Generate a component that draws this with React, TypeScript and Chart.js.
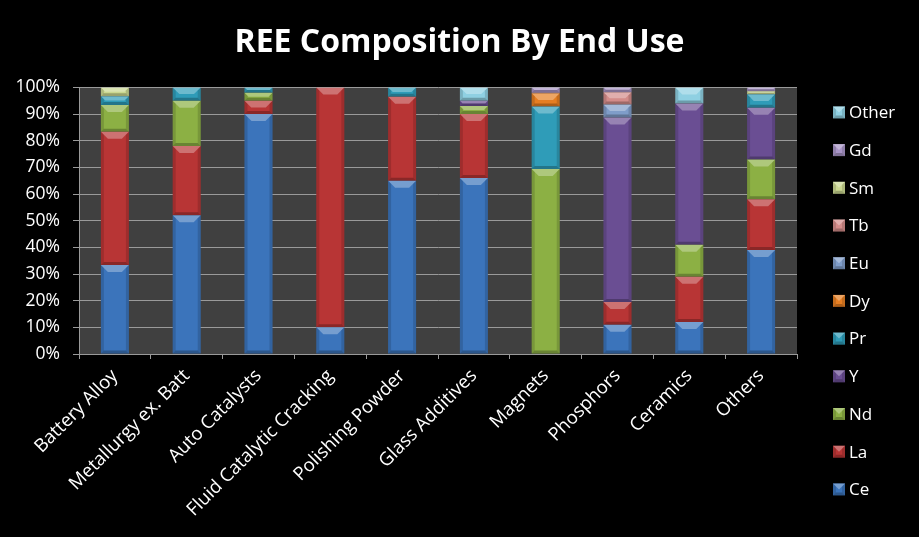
import React, { useEffect, useRef } from "react";
import { Chart, registerables } from "chart.js";

Chart.register(...registerables);

const categories = [
  "Battery Alloy",
  "Metallurgy ex. Batt",
  "Auto Catalysts",
  "Fluid Catalytic Cracking",
  "Polishing Powder",
  "Glass Additives",
  "Magnets",
  "Phosphors",
  "Ceramics",
  "Others",
];

const ce = [33.4, 52, 90, 10, 65, 66, 0, 11, 12, 39];
const la = [50, 26, 5, 90, 31.5, 24, 0, 8.5, 17, 19];
const nd = [10, 17, 3, 0, 0, 3, 69.4, 0, 12, 15];
const y = [0, 0, 0, 0, 0, 2, 0, 69.2, 53, 19.4];
const pr = [3.3, 5, 2, 0, 3.5, 0, 23.4, 0, 0, 5];
const dy = [0, 0, 0, 0, 0, 0, 5, 0, 0, 0];
const eu = [0, 0, 0, 0, 0, 0, 0, 4.9, 0, 0];
const tb = [0, 0, 0, 0, 0, 0, 0.2, 4.6, 0, 0];
const sm = [3.3, 0, 0, 0, 0, 0, 0, 0, 0, 1.2];
const gd = [0, 0, 0, 0, 0, 0, 2, 1.8, 0, 1.4];
const other = [0, 0, 0, 0, 0, 5, 0, 0, 6, 0];

const seriesNames = ["Ce", "La", "Nd", "Y", "Pr", "Dy", "Eu", "Tb", "Sm", "Gd", "Other"];
const seriesValues = [ce, la, nd, y, pr, dy, eu, tb, sm, gd, other];
const seriesColors = [
  "#3b74bb",
  "#b83535",
  "#8cb044",
  "#6a4e93",
  "#2f9cb8",
  "#e67e22",
  "#7f9dc9",
  "#d38c8a",
  "#cbd891",
  "#a894c6",
  "#8fd0e2",
];

const yTicks = [0, 10, 20, 30, 40, 50, 60, 70, 80, 90, 100];

const FONT = "'Open Sans', 'DejaVu Sans', sans-serif";

const backgroundPlugin = {
  id: "bgPlot",
  beforeDraw(chart: any) {
    const { ctx, chartArea } = chart;
    ctx.save();
    ctx.fillStyle = "#000000";
    ctx.fillRect(0, 0, chart.width, chart.height);
    ctx.fillStyle = "#404040";
    ctx.fillRect(chartArea.left, chartArea.top, chartArea.right - chartArea.left, chartArea.bottom - chartArea.top);
    ctx.restore();
  },
};

function bevel(ctx: any, left: number, top: number, right: number, bottom: number) {
  const w = right - left;
  const h = bottom - top;
  if (h < 0.5 || w < 1) return;
  const b = Math.min(7, h / 2, w / 2);
  ctx.save();
  ctx.fillStyle = "rgba(255,255,255,0.3)";
  ctx.beginPath();
  ctx.moveTo(left, top);
  ctx.lineTo(right, top);
  ctx.lineTo(right - b, top + b);
  ctx.lineTo(left + b, top + b);
  ctx.closePath();
  ctx.fill();
  const s = Math.min(3, b);
  ctx.fillStyle = "rgba(0,0,0,0.14)";
  ctx.beginPath();
  ctx.moveTo(left, top);
  ctx.lineTo(left + s, top + s);
  ctx.lineTo(left + s, bottom - s);
  ctx.lineTo(left, bottom);
  ctx.closePath();
  ctx.fill();
  ctx.beginPath();
  ctx.moveTo(right, top);
  ctx.lineTo(right - s, top + s);
  ctx.lineTo(right - s, bottom - s);
  ctx.lineTo(right, bottom);
  ctx.closePath();
  ctx.fill();
  ctx.fillStyle = "rgba(0,0,0,0.25)";
  ctx.beginPath();
  ctx.moveTo(left, bottom);
  ctx.lineTo(right, bottom);
  ctx.lineTo(right - s, bottom - s);
  ctx.lineTo(left + s, bottom - s);
  ctx.closePath();
  ctx.fill();
  ctx.restore();
}

const bevelPlugin = {
  id: "bevel",
  afterDatasetsDraw(chart: any) {
    const { ctx } = chart;
    chart.data.datasets.forEach((_: any, di: number) => {
      const meta = chart.getDatasetMeta(di);
      meta.data.forEach((el: any) => {
        const p = el.getProps(["x", "y", "base", "width"], true);
        const top = Math.min(p.y, p.base);
        const bottom = Math.max(p.y, p.base);
        bevel(ctx, p.x - p.width / 2, top, p.x + p.width / 2, bottom);
      });
    });
  },
};

const legendPlugin = {
  id: "sideLegend",
  afterDraw(chart: any) {
    const { ctx, chartArea } = chart;
    const ds = chart.data.datasets;
    const n = ds.length;
    const x0 = chartArea.right + 36;
    const first = chartArea.top + 25;
    const step = 37.7;
    ctx.save();
    ctx.font = `17px ${FONT}`;
    ctx.textBaseline = "middle";
    ctx.textAlign = "left";
    for (let i = 0; i < n; i++) {
      const d = ds[n - 1 - i];
      const cy = first + i * step;
      ctx.fillStyle = d.backgroundColor;
      ctx.fillRect(x0, cy - 6, 12, 12);
      bevel(ctx, x0, cy - 6, x0 + 12, cy + 6);
      ctx.fillStyle = "#ffffff";
      ctx.fillText(d.label, x0 + 16, cy + 1);
    }
    ctx.restore();
  },
};

export default function App() {
  const ref = useRef<HTMLCanvasElement | null>(null);

  useEffect(() => {
    if (!ref.current) return;
    const chart = new Chart(ref.current, {
      type: "bar",
      data: {
        labels: categories,
        datasets: seriesNames.map((name, i) => ({
          label: name,
          data: seriesValues[i],
          backgroundColor: seriesColors[i],
          borderWidth: 0,
          barPercentage: 0.39,
          categoryPercentage: 1,
          yAxisID: "y",
        })),
      },
      options: {
        animation: false,
        responsive: false,
        maintainAspectRatio: false,
        layout: { padding: 0 },
        plugins: {
          legend: { display: false },
          tooltip: { enabled: false },
          title: {
            display: true,
            text: "REE Composition By End Use",
            color: "#ffffff",
            font: { family: FONT, size: 32, weight: "bold" },
            padding: { top: 24, bottom: 25 },
          },
        },
        scales: {
          x: {
            stacked: true,
            grid: {
              drawOnChartArea: false,
              drawTicks: true,
              tickLength: 5,
              color: "#9a9a9a",
              offset: true,
            },
            border: { display: true, color: "#9a9a9a" },
            ticks: {
              color: "#ffffff",
              font: { family: FONT, size: 18.5 },
              minRotation: 45,
              maxRotation: 45,
              autoSkip: false,
              padding: 6,
            },
            afterFit: (scale: any) => {
              scale.height = 183;
            },
          },
          y: {
            stacked: true,
            min: 0,
            max: 100,
            afterBuildTicks: (scale: any) => {
              scale.ticks = yTicks.map((v) => ({ value: v }));
            },
            grid: {
              color: "#9a9a9a",
              drawTicks: true,
              tickLength: 6,
            },
            border: { display: true, color: "#9a9a9a" },
            ticks: {
              color: "#ffffff",
              font: { family: FONT, size: 17.5 },
              padding: 13,
              callback: (v: any) => `${v}%`,
            },
            afterFit: (scale: any) => {
              scale.width = 79;
            },
          },
          legendSpace: {
            type: "linear",
            position: "right",
            display: true,
            grid: { display: false, drawTicks: false },
            border: { display: false },
            ticks: { display: false },
            afterFit: (scale: any) => {
              scale.width = 122;
            },
          },
        },
      },
      plugins: [backgroundPlugin, bevelPlugin, legendPlugin],
    });
    return () => chart.destroy();
  }, []);

  return (
    <div style={{ position: "fixed", left: 0, top: 0, width: 919, height: 537, background: "#000" }}>
      <canvas ref={ref} width={919} height={537} style={{ display: "block" }} />
    </div>
  );
}
